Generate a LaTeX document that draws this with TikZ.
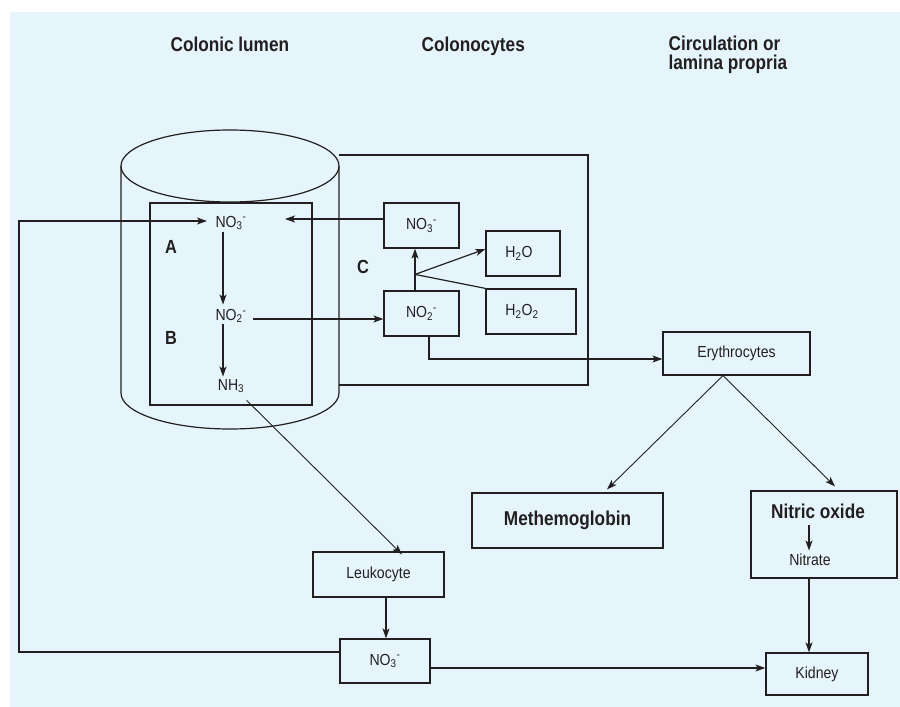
\documentclass[tikz,border=0pt]{standalone}
\usepackage{fontspec}
\setmainfont{Liberation Sans}[FakeStretch=0.88]
\newfontfamily\bcond{Liberation Sans}[FakeStretch=0.86]
\usetikzlibrary{arrows.meta}
\definecolor{bg}{RGB}{230,245,252}
\definecolor{ink}{RGB}{35,31,32}
\begin{document}
\begin{tikzpicture}[x=1pt,y=-1pt,color=ink,line width=1.2pt,
  arr/.style={-{Stealth[length=10pt,width=7pt,inset=2.5pt]}},
  thin arr/.style={arr,line width=0.9pt},
  box/.style={draw=ink,line width=1.2pt,rectangle,inner sep=0pt,font=\fontsize{16}{18}\selectfont},
  small/.style={inner sep=0pt,font=\fontsize{16}{18}\selectfont},
  big/.style={inner sep=0pt,font=\fontsize{20}{19}\bcond\bfseries},
  letter/.style={inner sep=0pt,font=\fontsize{19}{19}\bcond\bfseries}]
\useasboundingbox (0,0) rectangle (900,707);
\fill[bg] (10,12) rectangle (900,707);

% headings
\node[big,anchor=base west] (h1) at (170,51) {Colonic lumen};
\node[big,anchor=base west] (h2) at (421,51) {Colonocytes};
\node[big,anchor=north west,align=left] (h3) at (668,35) {Circulation or\\lamina propria};

% cylinder (colonic lumen)
\draw (121,166) -- (121,393) arc[start angle=180,end angle=360,x radius=109pt,y radius=36pt] -- (339,166);
\draw (230,166) ellipse[x radius=109pt,y radius=36pt];
\node[box,minimum width=162pt,minimum height=202pt] (lumen) at (231,304) {};

% colonocyte region
\draw (339,155) -| (588,385) -- (339,385);

% lumen species
\node[small] (lno3) at (231,223) {NO\textsubscript{3}\textsuperscript{-}};
\node[small] (lno2) at (231,316) {NO\textsubscript{2}\textsuperscript{-}};
\node[small] (lnh3) at (231,386) {NH\textsubscript{3}};
\node[letter] (la) at (171,246.5) {A};
\node[letter] (lb) at (171,338) {B};
\node[letter] (lc) at (363,267) {C};

% colonocyte boxes
\node[box,minimum width=75pt,minimum height=45pt] (cno3) at (421.5,225.5) {NO\textsubscript{3}\textsuperscript{-}};
\node[box,minimum width=75pt,minimum height=45pt] (cno2) at (421.5,313.5) {NO\textsubscript{2}\textsuperscript{-}};
\node[box,minimum width=74pt,minimum height=45pt,label={[small,xshift=-4pt]center:H\textsubscript{2}O}] (h2o) at (523,253.5) {};
\node[box,minimum width=90pt,minimum height=45pt,label={[small,xshift=-9pt]center:H\textsubscript{2}O\textsubscript{2}}] (h2o2) at (531,311.5) {};

% circulation boxes
\node[box,minimum width=147pt,minimum height=43pt] (ery) at (736.5,353.5) {Erythrocytes};
\node[box,minimum width=191pt,minimum height=55pt,font=\fontsize{20}{19}\bcond\bfseries] (meth) at (567.5,520.5) {Methemoglobin};
\node[box,minimum width=146pt,minimum height=87pt] (nit) at (824,534.5) {};
\node[big] (nitt) at (818,511) {Nitric oxide};
\node[small] (nitr) at (810,560) {Nitrate};
\node[box,minimum width=102pt,minimum height=42pt] (kid) at (817,674) {Kidney};
\node[box,minimum width=131pt,minimum height=45pt] (leuk) at (378.5,574.5) {Leukocyte};
\node[box,minimum width=90pt,minimum height=44pt] (bno3) at (385,661) {NO\textsubscript{3}\textsuperscript{-}};

% helper coordinates
\coordinate (loopc) at (19,221);
\coordinate (ret) at (285,219);
\coordinate (br) at ([xshift=-6.5pt,yshift=16pt]cno2.north);

% connectors in lumen
\draw[arr,shorten <=1pt,shorten >=4pt] ([xshift=-8pt]lno3.south) -- ([xshift=-8pt]lno2.north);
\draw[arr,shorten <=1pt,shorten >=2pt] ([xshift=-8pt]lno2.south) -- ([xshift=-8pt]lnh3.north);
\draw[arr] ([yshift=6.5pt]cno3.west) -- (ret);
\draw[arr] ([xshift=6pt,yshift=-3pt]lno2.east) -- ([yshift=-5.5pt]cno2.west);

% colonocyte branching
\draw[arr] ([xshift=-6.5pt]cno2.north) -- ([xshift=-6.5pt]cno3.south);
\draw[arr] (br) -- ([yshift=4.5pt]h2o.west);
\draw (br) -- (h2o2.north west);
\draw[arr] ([xshift=7.5pt]cno2.south) |- ([yshift=-5.5pt]ery.west);

% erythrocytes
\draw[thin arr] ([xshift=-13.5pt]ery.south) -- ([xshift=39.5pt,yshift=3pt]meth.north);
\draw[thin arr] ([xshift=-13.5pt]ery.south) -- ([xshift=11pt,yshift=4pt]nit.north);
\draw[arr,shorten <=6pt,shorten >=3pt] ([xshift=-9pt]nitt.south) -- ([xshift=-1pt]nitr.north);
\draw[arr] ([xshift=-15pt]nit.south) -- ([xshift=-8pt]kid.north);

% leukocyte path
\draw[thin arr] ([xshift=2pt,yshift=-7pt]lnh3.south east) -- ([xshift=23.5pt,yshift=-3pt]leuk.north);
\draw[arr] ([xshift=7.5pt]leuk.south) -- ([xshift=1pt]bno3.north);
\draw[arr] ([yshift=-7pt]bno3.east) -- ([yshift=6pt]kid.west);
\draw[arr] ([yshift=9pt]bno3.west) -| (loopc) -- ([xshift=-8pt,yshift=2pt]lno3.west);
\end{tikzpicture}
\end{document}
